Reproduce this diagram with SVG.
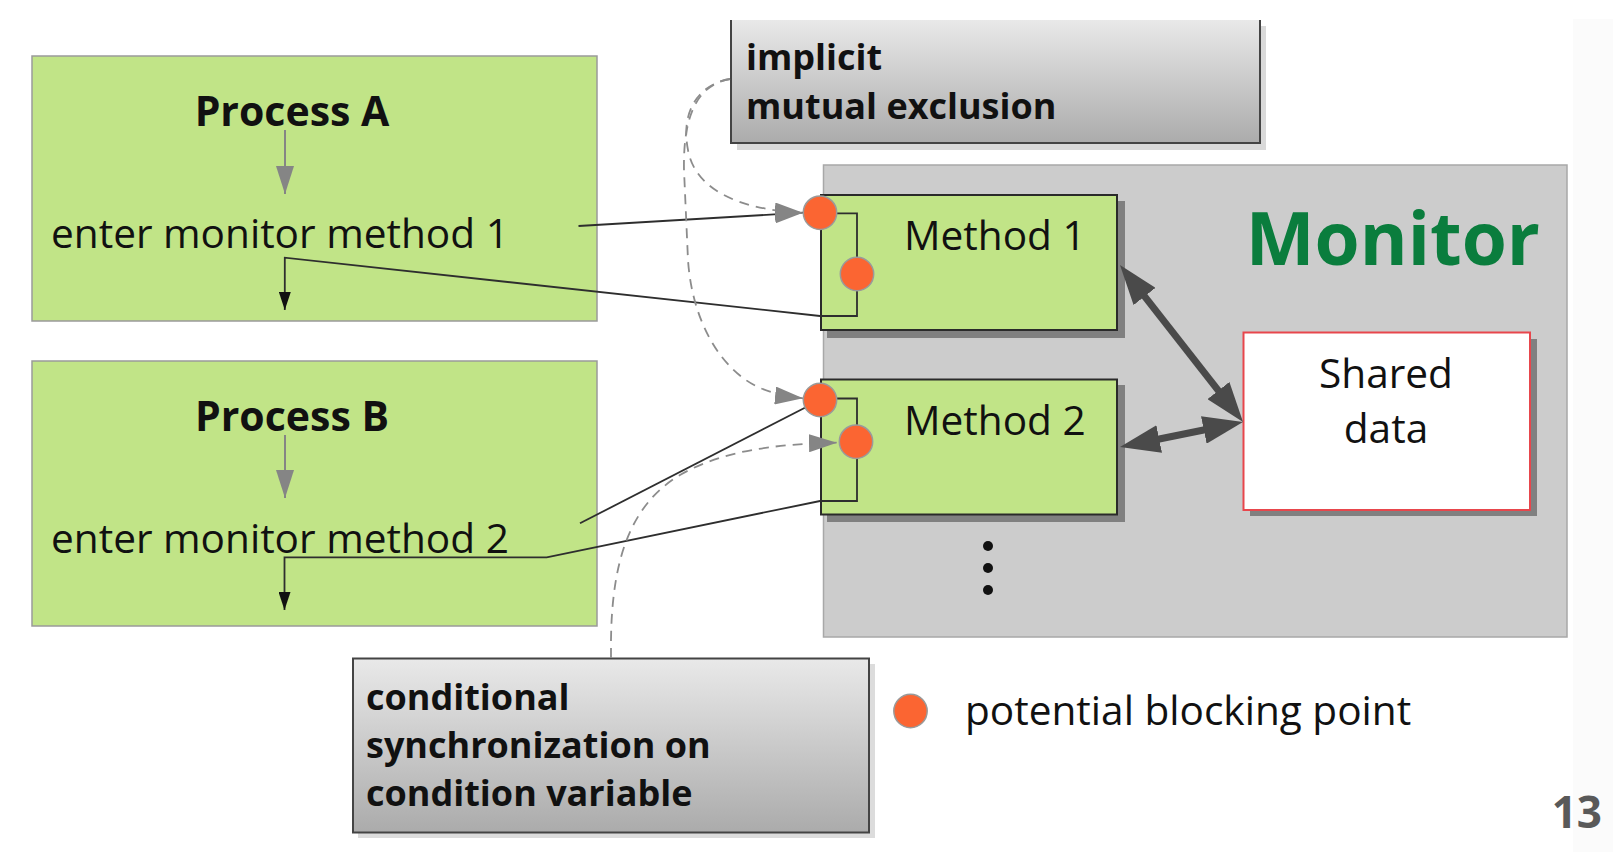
<svg xmlns="http://www.w3.org/2000/svg" width="1624" height="855" viewBox="0 0 1624 855">
<style>
  text { font-family: "Open Sans", "Liberation Sans", sans-serif; fill: #111; }
  .proc { fill: #c1e487; stroke: #9a9a9a; stroke-width: 1.5; }
  .meth { fill: #c1e487; stroke: #2a2a2a; stroke-width: 2; }
  .shadow { fill: #808080; }
  .note { fill: url(#noteGrad); }
  .noteBorder { fill: none; stroke: #444; stroke-width: 2; }
  .dot { fill: #fb6532; stroke: #9a9a9a; stroke-width: 1.5; }
  .t40 { font-size: 40.6px; }
  .b41 { font-size: 41px; font-weight: bold; }
  .b35 { font-size: 36px; font-weight: bold; }
  .solid { fill: none; stroke: #2e2e2e; stroke-width: 1.8; }
  .dash { fill: none; stroke: #8c8c8c; stroke-width: 1.8; stroke-dasharray: 10 7; }
  .grayArrow { fill: none; stroke: #858585; stroke-width: 2; }
  .big { fill: none; stroke: #4a4a4a; stroke-width: 7; }
</style>
<defs>
  <linearGradient id="noteGrad" x1="0" y1="0" x2="0" y2="1">
    <stop offset="0" stop-color="#e9e9e9"/>
    <stop offset="1" stop-color="#ababab"/>
  </linearGradient>
  <marker id="gHead" markerUnits="userSpaceOnUse" markerWidth="28" markerHeight="18" refX="28" refY="9" orient="auto">
    <path d="M0,0 L28,9 L0,18 z" fill="#858585"/>
  </marker>
  <marker id="kHead" markerUnits="userSpaceOnUse" markerWidth="18" markerHeight="12" refX="18" refY="6" orient="auto">
    <path d="M0,0 L18,6 L0,12 z" fill="#111"/>
  </marker>
  <marker id="bHead" markerUnits="userSpaceOnUse" markerWidth="40" markerHeight="28" refX="20" refY="14" orient="auto-start-reverse">
    <path d="M0,0 L40,14 L0,28 z" fill="#4a4a4a"/>
  </marker>
</defs>

<rect x="0" y="0" width="1624" height="855" fill="#ffffff"/>
<rect x="1573" y="19" width="40" height="833" fill="#fbfbfb"/>

<g id="process-a">
  <rect class="proc" x="32" y="56" width="565" height="265"/>
  <text class="b41" x="292" y="126" text-anchor="middle">Process A</text>
  <path class="grayArrow" d="M285,130 L285,194" marker-end="url(#gHead)"/>
  <text class="t40" x="51" y="248">enter monitor method 1</text>
</g>

<g id="process-b">
  <rect class="proc" x="32" y="361" width="565" height="265"/>
  <text class="b41" x="292" y="431" text-anchor="middle">Process B</text>
  <path class="grayArrow" d="M285,435 L285,498" marker-end="url(#gHead)"/>
  <text class="t40" x="51" y="553">enter monitor method 2</text>
</g>

<g id="implicit-note">
  <rect x="737" y="26" width="529" height="124" fill="#d9d9d9"/>
  <rect class="note" x="731" y="20" width="529" height="123"/>
  <path class="noteBorder" d="M731,20 L731,143 L1260,143 L1260,20"/>
  <text class="b35" x="746" y="70">implicit</text>
  <text class="b35" x="746" y="119">mutual exclusion</text>
</g>

<g id="monitor">
  <rect x="823.5" y="165" width="743.5" height="472" fill="#cccccc" stroke="#a8a8a8" stroke-width="1.5"/>
  <text x="1540" y="265" text-anchor="end" font-size="73" font-weight="bold" style="fill:#0a7d3d">Monitor</text>
  <circle cx="988" cy="546" r="5" fill="#111"/>
  <circle cx="988" cy="568" r="5" fill="#111"/>
  <circle cx="988" cy="590" r="5" fill="#111"/>
</g>

<g id="method-1">
  <rect class="shadow" x="827" y="201" width="298" height="137"/>
  <rect class="meth" x="821" y="195" width="296" height="135"/>
  <text class="t40" x="904" y="250">Method 1</text>
</g>

<g id="method-2">
  <rect class="shadow" x="827" y="385" width="298" height="137"/>
  <rect class="meth" x="821" y="379.5" width="296" height="135"/>
  <text class="t40" x="904" y="435">Method 2</text>
</g>

<g id="shared-data">
  <rect class="shadow" x="1250" y="339" width="287" height="177"/>
  <rect x="1243.5" y="332.5" width="286.5" height="177.5" fill="#ffffff" stroke="#e8464c" stroke-width="2"/>
  <text class="t40" x="1386" y="388" text-anchor="middle">Shared</text>
  <text class="t40" x="1386" y="443" text-anchor="middle">data</text>
</g>

<g id="conditional-note">
  <rect x="358" y="664" width="517" height="174" fill="#dcdcdc"/>
  <rect class="note" x="353" y="658.5" width="516" height="174"/>
  <rect class="noteBorder" x="353" y="658.5" width="516" height="174"/>
  <text class="b35" x="366" y="710">conditional</text>
  <text class="b35" x="366" y="758">synchronization on</text>
  <text class="b35" x="366" y="806">condition variable</text>
</g>

<g id="connectors">
  <path class="solid" d="M578.5,226 L803,212.7" marker-end="url(#gHead)"/>
  <path class="solid" d="M820,213.3 L857,213.3 L857,316 L820,316 L284.8,257.7 L284.8,310" marker-end="url(#kHead)"/>
  <path class="solid" d="M580,523.3 L820,400"/>
  <path class="solid" d="M820,398.5 L857,398.5 L857,501 L820,501 L546.7,557.3 L284.5,557.3 L284.5,610" marker-end="url(#kHead)"/>
  <path class="dash" d="M730,79 C700,84 680,110 688,150 C695,190 740,210 803,212.7" marker-end="url(#gHead)"/>
  <path class="dash" d="M730,79 C695,85 683,120 684,170 L688,260 C692,320 720,370 760,388 C775,394 790,397 803,398.3" marker-end="url(#gHead)"/>
  <path class="dash" d="M611,658 L611,640 C612,560 630,505 680,475 C720,452 770,444 837,442.7" marker-end="url(#gHead)"/>
  <path class="big" d="M1132.3,280.7 L1230.7,406.3" marker-start="url(#bHead)" marker-end="url(#bHead)"/>
  <path class="big" d="M1139.6,443 L1223.4,426" marker-start="url(#bHead)" marker-end="url(#bHead)"/>
</g>

<g id="blocking-points">
  <circle class="dot" cx="820" cy="212.7" r="16.7"/>
  <circle class="dot" cx="857" cy="274" r="16.7"/>
  <circle class="dot" cx="820" cy="400" r="16.7"/>
  <circle class="dot" cx="856" cy="441.7" r="16.7"/>
</g>

<g id="legend">
  <circle class="dot" cx="910.5" cy="711" r="16.7"/>
  <text class="t40" x="965" y="725">potential blocking point</text>
</g>

<text x="1602" y="828" text-anchor="end" font-size="44" font-weight="bold" style="fill:#595959">13</text>
</svg>
